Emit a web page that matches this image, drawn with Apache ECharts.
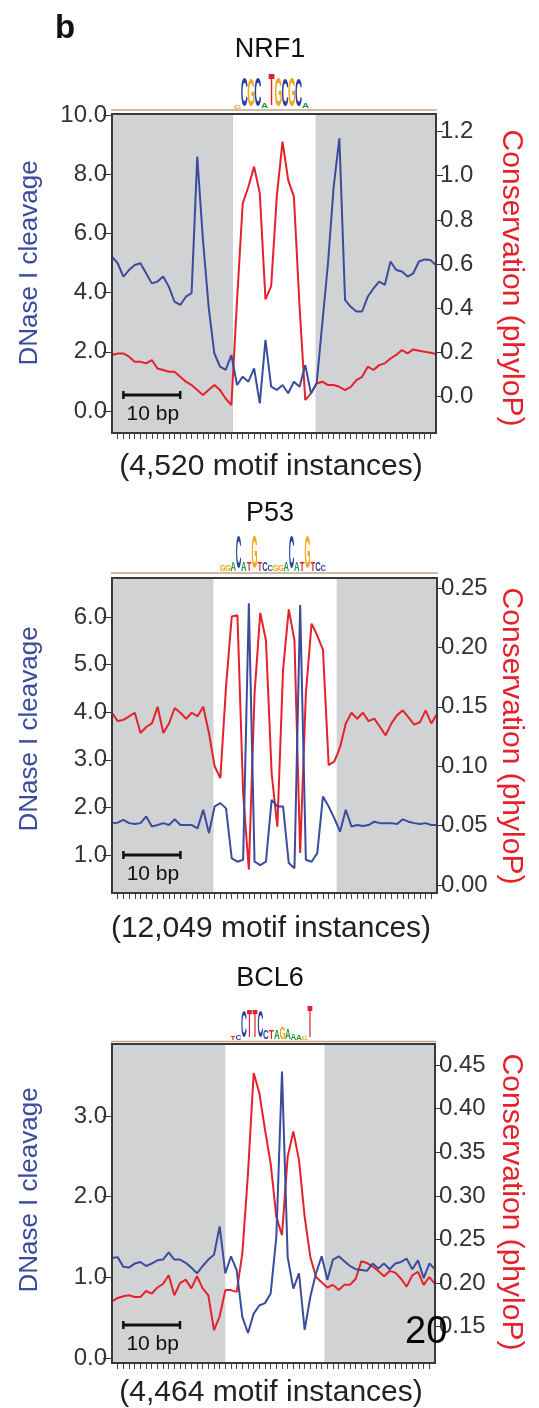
<!DOCTYPE html>
<html><head><meta charset="utf-8">
<script src="https://cdn.jsdelivr.net/npm/echarts@6/dist/echarts.min.js"></script>
<style>html,body{margin:0;padding:0;background:#fff}#c{width:539px;height:1408px}</style>
</head><body><div id="c"></div>
<script>
// ---------------- DATA ----------------
const panelTitles = ['NRF1', 'P53', 'BCL6'];
const instanceLabels = ['(4,520 motif instances)', '(12,049 motif instances)', '(4,464 motif instances)'];
const leftAxisName = 'DNase I cleavage';
const rightAxisName = 'Conservation (phyloP)';
const scaleBarLabel = '10 bp';
const scaleBarBp = 10;

// DNase I cleavage (left axis) and phyloP conservation (right axis), one value per bp
const nrf1Dnase = [5.21,4.99,4.54,4.76,4.93,4.99,4.65,4.31,4.37,4.54, 4.20,3.69,3.58,3.86,3.98,8.59,5.78,3.52,1.95,1.50, 1.39,1.89,0.88,1.16,0.99,1.44,0.26,2.40,0.82,0.71, 0.88,0.60,0.99,0.82,1.55,0.60,0.93,2.96,4.99,7.58, 9.21,3.75,3.52,3.36,3.36,3.86,4.14,4.37,4.26,5.05, 4.76,4.71,4.54,4.65,5.05,5.12,5.10,4.93];
const nrf1Cons = [0.189,0.196,0.196,0.181,0.158,0.158,0.151,0.166,0.128,0.121, 0.113,0.113,0.090,0.068,0.053,0.030,0.008,0.030,0.053,0.030, -0.008,-0.038,0.437,0.875,0.950,1.041,0.920,0.44,0.50,0.91, 1.154,0.980,0.905,0.407,-0.015,0.015,0.060,0.068,0.053,0.053, 0.045,0.030,0.045,0.075,0.090,0.136,0.121,0.143,0.151,0.173, 0.189,0.211,0.196,0.214,0.208,0.204,0.199,0.193];
const p53Dnase = [1.67,1.68,1.74,1.67,1.65,1.67,1.81,1.60,1.63,1.67, 1.63,1.75,1.63,1.63,1.63,1.56,1.95,1.46,2.02,2.09, 1.98,0.93,0.86,0.90,6.29,0.86,0.79,0.86,2.16,2.02, 2.02,0.83,0.72,6.25,0.90,0.86,1.04,2.23,2.02,1.77, 1.49,1.95,1.60,1.63,1.61,1.63,1.70,1.67,1.67,1.67, 1.65,1.75,1.70,1.67,1.65,1.67,1.63,1.63];
const p53Cons = [0.145,0.138,0.139,0.142,0.145,0.128,0.133,0.136,0.150,0.128, 0.136,0.149,0.145,0.140,0.145,0.142,0.150,0.128,0.100,0.090, 0.167,0.226,0.227,0.077,0.013,0.161,0.229,0.206,0.094,0.049, 0.181,0.232,0.206,0.027,0.161,0.220,0.210,0.198,0.101,0.104, 0.116,0.136,0.145,0.140,0.145,0.138,0.140,0.133,0.126,0.136, 0.143,0.147,0.141,0.135,0.137,0.147,0.136,0.144];
const bcl6Dnase = [1.24,1.25,1.13,1.12,1.17,1.19,1.14,1.17,1.21,1.22, 1.31,1.22,1.22,1.18,1.12,1.05,1.14,1.22,1.28,1.63, 1.05,1.26,1.09,0.51,0.31,0.55,0.65,0.68,0.80,1.50, 3.55,1.25,0.86,1.05,0.35,0.76,1.05,1.26,0.97,1.22, 1.26,1.20,1.14,1.10,1.09,1.08,1.17,1.11,1.17,1.10, 1.17,1.19,1.23,1.10,1.21,0.99,1.17,1.10];
const bcl6Cons = [0.179,0.183,0.185,0.186,0.184,0.184,0.191,0.188,0.195,0.199, 0.209,0.186,0.200,0.204,0.194,0.208,0.194,0.186,0.146,0.162, 0.192,0.192,0.190,0.234,0.326,0.441,0.418,0.376,0.337,0.276, 0.255,0.345,0.374,0.341,0.276,0.230,0.207,0.201,0.195,0.198, 0.192,0.198,0.198,0.205,0.225,0.223,0.219,0.214,0.208,0.214, 0.212,0.205,0.196,0.209,0.213,0.198,0.207,0.199];

// motif span (bp positions) shown as the white band
const motifStart = [21.3, 17.8, 20.0];
const motifEnd = [35.8, 39.4, 37.5];

// tick labels
const leftTicks = [[0,2,4,6,8,10],[1,2,3,4,5,6],[0,1,2,3]];
const rightTicks = [[0,0.2,0.4,0.6,0.8,1.0,1.2],[0,0.05,0.10,0.15,0.20,0.25],[0.15,0.20,0.25,0.30,0.35,0.40,0.45]];
const leftDecimals = [1,1,1];
const rightDecimals = [1,2,2];

// sequence logos (letters and information content in bits)
const nrf1Logo = 'gCGCaTGCGCa';
const nrf1Bits = [0.2,1.7,1.6,1.7,0.3,1.8,1.7,1.6,1.7,1.6,0.3];
const p53Logo = 'GGACATGTCCGGACATGTCC';
const p53Bits = [0.4,0.4,0.5,1.9,0.5,0.5,1.9,0.5,0.5,0.4, 0.4,0.4,0.5,1.9,0.5,0.5,1.9,0.5,0.5,0.4];
const bcl6Logo = 'tcCTTCctaGaAagT';
const bcl6Bits = [0.2,0.3,1.5,1.6,1.6,1.5,0.5,0.5,0.5,0.7,0.6,0.4,0.3,0.2,1.8];

// ---------------- LAYOUT / STYLE ----------------
const dnase = [nrf1Dnase, p53Dnase, bcl6Dnase];
const cons = [nrf1Cons, p53Cons, bcl6Cons];
const logos = [nrf1Logo, p53Logo, bcl6Logo];
const logoBits = [nrf1Bits, p53Bits, bcl6Bits];

const FONT = "'Liberation Sans', Arial, Helvetica, sans-serif";
const BLUE = '#3b4b9d';
const RED = '#e5212c';
const GREY = '#d1d2d4';
const grids = [
  {left:112, top:114, width:324, height:319},
  {left:112, top:578, width:325, height:315},
  {left:112, top:1044, width:323, height:319}
];
const leftRange = [[-0.743, 10.03],[0.202, 6.82],[-0.062, 3.891]];
const rightRange = [[-0.164, 1.279],[-0.0067, 0.2584],[0.1084, 0.4742]];
const titleY = [50, 514, 979];
const bottomY = [467, 929, 1393];
const leftNameY = [263, 729, 1190];
const rightNameY = [278, 736, 1202];
const logoCenterX = [271.5, 273, 271.5];
const logoBaseY = [110, 573, 1041.5];
const logoSpacing = [6.8, 5.3, 5.5];
const pxPerBit = 17.5;
const letterColor = {A:'#1f9a3c', C:'#2d3f9e', G:'#f2a81c', T:'#e0202a'};

const nPos = nrf1Dnase.length;
const xTicks = [];
for (let i = 1; i < nPos - 1; i++) xTicks.push(i);

const chart = echarts.init(document.getElementById('c'), null, {renderer:'canvas'});

const yAxes = [];
grids.forEach((g, p) => {
  yAxes.push({
    type:'value', gridIndex:p, position:'left', min:leftRange[p][0], max:leftRange[p][1],
    axisLine:{show:false, onZero:false}, splitLine:{show:false},
    axisTick:{show:true, length:9, lineStyle:{color:'#333', width:1}, customValues:leftTicks[p]},
    axisLabel:{customValues:leftTicks[p], formatter:v => v.toFixed(leftDecimals[p]), fontSize:24, color:'#333', fontFamily:FONT, margin:5}
  });
  yAxes.push({
    type:'value', gridIndex:p, position:'right', min:rightRange[p][0], max:rightRange[p][1],
    axisLine:{show:false, onZero:false}, splitLine:{show:false},
    axisTick:{show:true, length:7, lineStyle:{color:'#333', width:1}, customValues:rightTicks[p]},
    axisLabel:{customValues:rightTicks[p], formatter:v => v.toFixed(rightDecimals[p]), fontSize:24, color:'#333', fontFamily:FONT, margin:4}
  });
});

const series = [];
grids.forEach((g, p) => {
  series.push({
    type:'line', xAxisIndex:p, yAxisIndex:2*p, data:[], z:1, silent:true,
    markArea:{silent:true, itemStyle:{color:'#ffffff', borderWidth:0},
      data:[[{xAxis:motifStart[p]},{xAxis:motifEnd[p]}]]}
  });
  series.push({
    type:'line', xAxisIndex:p, yAxisIndex:2*p+1, z:3, silent:true,
    data:cons[p].map((v,i)=>[i,v]), showSymbol:false, symbol:'none',
    lineStyle:{color:RED, width:2}
  });
  series.push({
    type:'line', xAxisIndex:p, yAxisIndex:2*p, z:4, silent:true,
    data:dnase[p].map((v,i)=>[i,v]), showSymbol:false, symbol:'none',
    lineStyle:{color:BLUE, width:2}
  });
});

chart.setOption({
  animation:false,
  backgroundColor:'#ffffff',
  grid: grids.map(g => Object.assign({show:true, backgroundColor:GREY, borderWidth:0}, g)),
  xAxis: grids.map((g,p) => ({
    type:'value', gridIndex:p, position:'bottom', min:0, max:nPos-1,
    axisLine:{show:false, onZero:false}, splitLine:{show:false}, axisLabel:{show:false},
    axisTick:{show:true, length:6, lineStyle:{color:'#444', width:1}, customValues:xTicks}
  })),
  yAxis: yAxes,
  series: series
});

// ---------------- ANNOTATIONS ----------------
const gfx = [];
gfx.push({type:'text', x:55, y:29, silent:true, style:{text:'b', font:'bold 33px ' + FONT, fill:'#111', align:'left', verticalAlign:'middle'}});
grids.forEach((g, p) => {
  gfx.push({type:'rect', z:100, silent:true, shape:{x:g.left, y:g.top, width:g.width, height:g.height},
    style:{fill:'none', stroke:'#3a3a3a', lineWidth:2}});
  gfx.push({type:'text', x:270, y:titleY[p], silent:true, style:{text:panelTitles[p], font:'27px ' + FONT, fill:'#111', align:'center', verticalAlign:'middle'}});
  gfx.push({type:'text', x:271, y:bottomY[p], silent:true, style:{text:instanceLabels[p], font:'30px ' + FONT, fill:'#222', align:'center', verticalAlign:'middle'}});
  gfx.push({type:'text', x:30, y:leftNameY[p], rotation:Math.PI/2, silent:true, style:{text:leftAxisName, font:'26px ' + FONT, fill:BLUE, align:'center', verticalAlign:'middle'}});
  gfx.push({type:'text', x:511, y:rightNameY[p], rotation:-Math.PI/2, silent:true, style:{text:rightAxisName, font:'30px ' + FONT, fill:RED, align:'center', verticalAlign:'middle'}});
  gfx.push({type:'line', silent:true, shape:{x1:g.left - 1, y1:logoBaseY[p], x2:g.left + g.width + 1, y2:logoBaseY[p]}, style:{stroke:'#c2a58a', lineWidth:1.5}});
  const letters = logos[p];
  const n = letters.length;
  const sp = logoSpacing[p];
  for (let k = 0; k < n; k++) {
    const ch = letters[k].toUpperCase();
    const h = logoBits[p][k] * pxPerBit;
    const cx = logoCenterX[p] + (k - (n - 1) / 2) * sp;
    gfx.push({type:'text', silent:true, x:cx, y:logoBaseY[p] - 1 - h / 2,
      scaleX: sp / 7.2 * 1.05, scaleY: h / 7.16,
      style:{text:ch, font:'bold 10px ' + FONT, fill:letterColor[ch], align:'center', verticalAlign:'middle'}});
  }
  const xa = chart.convertToPixel({xAxisIndex:p}, 2);
  const xb = chart.convertToPixel({xAxisIndex:p}, 2 + scaleBarBp);
  const by = g.top + g.height - 38;
  gfx.push({type:'line', silent:true, z:50, shape:{x1:xa, y1:by, x2:xb, y2:by}, style:{stroke:'#111', lineWidth:3}});
  gfx.push({type:'line', silent:true, z:50, shape:{x1:xa, y1:by - 4, x2:xa, y2:by + 4}, style:{stroke:'#111', lineWidth:2.5}});
  gfx.push({type:'line', silent:true, z:50, shape:{x1:xb, y1:by - 4, x2:xb, y2:by + 4}, style:{stroke:'#111', lineWidth:2.5}});
  gfx.push({type:'text', silent:true, z:50, x:(xa + xb) / 2 + 1, y:g.top + g.height - 19, style:{text:scaleBarLabel, font:'21px ' + FONT, fill:'#111', align:'center', verticalAlign:'middle'}});
});
gfx.push({type:'text', x:405, y:1333, z:200, silent:true, style:{text:'20', font:'38px ' + FONT, fill:'#000', align:'left', verticalAlign:'middle'}});

chart.setOption({graphic: gfx});
</script>
</body></html>
